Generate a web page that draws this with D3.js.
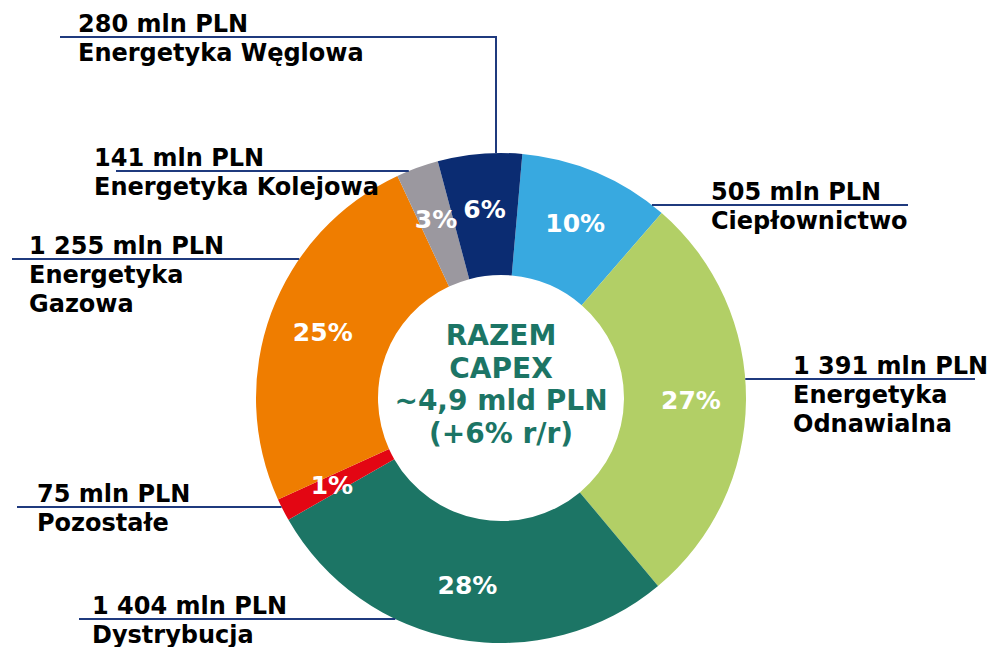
<!DOCTYPE html>
<html>
<head>
<meta charset="utf-8">
<script src="https://cdn.jsdelivr.net/npm/d3@7"></script>
<style>
  html, body { margin: 0; padding: 0; background: #fff; }
  svg { display: block; font-family: "DejaVu Sans", Verdana, sans-serif; font-weight: bold; }
</style>
</head>
<body>
<svg id="chart" width="993" height="647"></svg>
<script>
// data, clockwise from the top
const categories = ['Ciepłownictwo', 'Energetyka Odnawialna', 'Dystrybucja', 'Pozostałe',
  'Energetyka Gazowa', 'Energetyka Kolejowa', 'Energetyka Węglowa'];
const nameLines = [['Ciepłownictwo'], ['Energetyka', 'Odnawialna'], ['Dystrybucja'], ['Pozostałe'],
  ['Energetyka', 'Gazowa'], ['Energetyka Kolejowa'], ['Energetyka Węglowa']];
const valuesMln = [505, 1391, 1404, 75, 1255, 141, 280];
const valueLabels = ['505 mln PLN', '1 391 mln PLN', '1 404 mln PLN', '75 mln PLN',
  '1 255 mln PLN', '141 mln PLN', '280 mln PLN'];
const percentLabels = ['10%', '27%', '28%', '1%', '25%', '3%', '6%'];
const colors = ['#38a9e0', '#b2cf66', '#1c7565', '#e30613', '#ef7d00', '#9b989f', '#0b2c72'];
const centerLines = ['RAZEM', 'CAPEX', '~4,9 mld PLN', '(+6% r/r)'];

// label layout (text x, leader y, far end of the leader, side)
const labelLayout = [
  { tx: 711, ly: 205, end: 908, side: 'right' },
  { tx: 793, ly: 379, end: 975, side: 'right' },
  { tx: 92, ly: 619, end: 79, side: 'left' },
  { tx: 37, ly: 507, end: 17, side: 'left' },
  { tx: 29, ly: 259, end: 12, side: 'left' },
  { tx: 94, ly: 171, end: 116, side: 'left' },
  { tx: 78, ly: 37, end: 60, side: 'top', elbow: 496 },
];

const cx = 501, cy = 398;
const outerR = 245, innerR = 123;
const start = 5 * Math.PI / 180;

const svg = d3.select('#chart');
const g = svg.append('g').attr('transform', `translate(${cx},${cy})`);

const pie = d3.pie().sort(null).startAngle(start).endAngle(start + 2 * Math.PI);
const arcs = pie(valuesMln);
const arc = d3.arc().innerRadius(innerR).outerRadius(outerR);
const labelArc = d3.arc().innerRadius(190).outerRadius(190);

g.selectAll('path.slice')
  .data(arcs)
  .join('path')
  .attr('class', 'slice')
  .attr('d', arc)
  .attr('fill', (d, i) => colors[i]);

g.selectAll('text.pct')
  .data(arcs)
  .join('text')
  .attr('class', 'pct')
  .attr('transform', (d) => `translate(${labelArc.centroid(d)})`)
  .attr('text-anchor', 'middle')
  .attr('dy', '0.36em')
  .attr('fill', '#fff')
  .attr('font-size', 25)
  .text((d, i) => percentLabels[i]);

// centre text
const ct = g.append('text')
  .attr('text-anchor', 'middle')
  .attr('fill', '#1c7565')
  .attr('font-size', 28);
centerLines.forEach((t, i) => {
  ct.append('tspan').attr('x', 0).attr('y', -53 + i * 32.5).text(t);
});

// leader lines + labels
const lineColor = '#1f3a7e';
labelLayout.forEach((l, i) => {
  let pts;
  if (l.side === 'top') {
    const yArc = cy - Math.sqrt(outerR * outerR - (l.elbow - cx) ** 2);
    pts = [[l.end, l.ly], [l.elbow, l.ly], [l.elbow, yArc]];
  } else {
    const dx = Math.sqrt(outerR * outerR - (l.ly - cy) ** 2);
    const xArc = l.side === 'right' ? cx + dx : cx - dx;
    pts = [[xArc, l.ly], [l.end, l.ly]];
  }
  svg.append('path')
    .attr('d', d3.line()(pts))
    .attr('fill', 'none')
    .attr('stroke', lineColor)
    .attr('stroke-width', 2);

  const t = svg.append('text')
    .attr('fill', '#000')
    .attr('font-size', 24);
  t.append('tspan').attr('x', l.tx).attr('y', l.ly - 5).text(valueLabels[i]);
  nameLines[i].forEach((s, k) => {
    t.append('tspan').attr('x', l.tx).attr('y', l.ly + 24 + k * 28.5).text(s);
  });
});
</script>
</body>
</html>
